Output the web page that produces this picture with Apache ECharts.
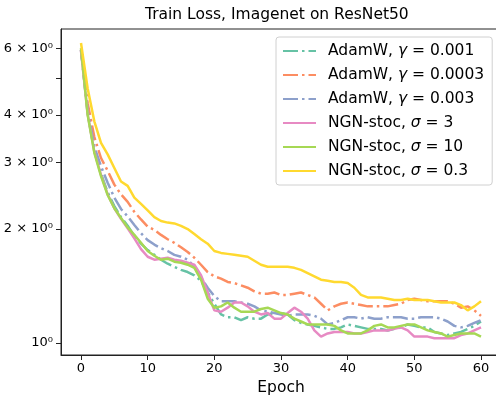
<!DOCTYPE html>
<html>
<head>
<meta charset="utf-8">
<script src="https://cdn.jsdelivr.net/npm/echarts@6/dist/echarts.min.js"></script>
<style>
  html, body { margin: 0; padding: 0; background: #fff; }
  #chart { width: 496px; height: 395px; }
</style>
</head>
<body>
<div id="chart"></div>
<script>
// epochs on the x axis
const epochs = [0, 1, 2, 3, 4, 5, 6, 7, 8, 9, 10, 11, 12, 13, 14, 15, 16, 17, 18, 19, 20,
  21, 22, 23, 24, 25, 26, 27, 28, 29, 30, 31, 32, 33, 34, 35, 36, 37, 38, 39, 40,
  41, 42, 43, 44, 45, 46, 47, 48, 49, 50, 51, 52, 53, 54, 55, 56, 57, 58, 59, 60]

const xTicks = [0, 10, 20, 30, 40, 50, 60]
const yLabels = [1, 2, 3, 4, 6]
const yTicks = [1, 2, 3, 4, 5, 6]

// train loss
const adamw001 = [5.95, 4.05, 3.22, 2.80, 2.50, 2.30, 2.15, 2.04, 1.92, 1.83, 1.76,
  1.71, 1.66, 1.62, 1.59, 1.56, 1.54, 1.51, 1.46, 1.36, 1.27,
  1.19, 1.17, 1.17, 1.15, 1.17, 1.16, 1.16, 1.19, 1.20, 1.20,
  1.19, 1.15, 1.13, 1.12, 1.11, 1.10, 1.09, 1.09, 1.10, 1.12,
  1.11, 1.10, 1.09, 1.09, 1.09, 1.08, 1.09, 1.10, 1.12, 1.11,
  1.10, 1.10, 1.07, 1.06, 1.05, 1.06, 1.07, 1.09, 1.11, 1.14]

const adamw0003 = [5.95, 4.30, 3.50, 3.08, 2.85, 2.62, 2.47, 2.36, 2.22, 2.12, 2.03,
  1.99, 1.93, 1.88, 1.84, 1.79, 1.74, 1.68, 1.61, 1.54, 1.50,
  1.48, 1.45, 1.44, 1.42, 1.40, 1.37, 1.35, 1.35, 1.36, 1.34,
  1.34, 1.35, 1.36, 1.34, 1.32, 1.27, 1.22, 1.25, 1.27, 1.28,
  1.27, 1.26, 1.25, 1.25, 1.25, 1.25, 1.26, 1.27, 1.30, 1.31,
  1.30, 1.29, 1.29, 1.29, 1.29, 1.27, 1.24, 1.25, 1.22, 1.18]

const adamw003 = [5.95, 4.10, 3.30, 2.93, 2.65, 2.42, 2.26, 2.16, 2.05, 1.95, 1.87,
  1.82, 1.78, 1.75, 1.71, 1.69, 1.66, 1.59, 1.49, 1.40, 1.33,
  1.29, 1.29, 1.29, 1.28, 1.27, 1.25, 1.22, 1.21, 1.20, 1.19,
  1.18, 1.19, 1.19, 1.19, 1.18, 1.16, 1.12, 1.13, 1.15, 1.17,
  1.17, 1.16, 1.17, 1.16, 1.16, 1.17, 1.17, 1.17, 1.16, 1.16,
  1.17, 1.17, 1.17, 1.16, 1.14, 1.11, 1.10, 1.11, 1.13, 1.15]

const ngn3 = [5.90, 4.02, 3.20, 2.78, 2.47, 2.27, 2.13, 2.01, 1.89, 1.77, 1.69,
  1.66, 1.67, 1.68, 1.66, 1.65, 1.63, 1.61, 1.51, 1.36, 1.22,
  1.21, 1.24, 1.28, 1.28, 1.25, 1.21, 1.19, 1.20, 1.16, 1.16,
  1.20, 1.24, 1.21, 1.16, 1.08, 1.04, 1.06, 1.07, 1.07, 1.07,
  1.06, 1.06, 1.07, 1.08, 1.08, 1.08, 1.09, 1.10, 1.08, 1.04,
  1.04, 1.04, 1.03, 1.03, 1.03, 1.03, 1.05, 1.06, 1.08, 1.10]

const ngn10 = [6.01, 4.00, 3.18, 2.76, 2.46, 2.27, 2.14, 2.02, 1.93, 1.84, 1.75,
  1.70, 1.66, 1.67, 1.64, 1.63, 1.61, 1.58, 1.47, 1.31, 1.24,
  1.25, 1.28, 1.24, 1.21, 1.21, 1.21, 1.23, 1.24, 1.22, 1.20,
  1.19, 1.16, 1.14, 1.12, 1.12, 1.12, 1.12, 1.11, 1.08, 1.06,
  1.06, 1.06, 1.08, 1.11, 1.12, 1.10, 1.10, 1.11, 1.12, 1.12,
  1.10, 1.08, 1.07, 1.06, 1.04, 1.05, 1.06, 1.06, 1.06, 1.04]

const ngn03 = [6.20, 4.70, 3.85, 3.38, 3.15, 2.90, 2.67, 2.60, 2.42, 2.33, 2.24,
  2.15, 2.10, 2.08, 2.07, 2.04, 2.00, 1.94, 1.88, 1.83, 1.75,
  1.73, 1.72, 1.71, 1.70, 1.69, 1.65, 1.61, 1.59, 1.59, 1.59,
  1.59, 1.58, 1.56, 1.53, 1.50, 1.47, 1.46, 1.45, 1.45, 1.44,
  1.40, 1.34, 1.32, 1.32, 1.32, 1.31, 1.30, 1.30, 1.31, 1.30,
  1.30, 1.30, 1.29, 1.28, 1.28, 1.28, 1.26, 1.22, 1.25, 1.29]

const FONT = 'DejaVu Sans'
const dashDot = [15, 4, 2.5, 4]

function makeSeries(name, values, color, dashed) {
  return {
    name,
    type: 'line',
    data: epochs.map((e, i) => [e, values[i]]),
    symbol: 'none',
    showSymbol: false,
    smooth: false,
    lineStyle: {
      width: 2.5,
      color,
      type: dashed ? dashDot : 'solid'
    },
    itemStyle: { color }
  }
}

const series = [
  makeSeries('AdamW, γ = 0.001', adamw001, '#66c2a5', true),
  makeSeries('AdamW, γ = 0.0003', adamw0003, '#fc8d62', true),
  makeSeries('AdamW, γ = 0.003', adamw003, '#8da0cb', true),
  makeSeries('NGN-stoc, σ = 3', ngn3, '#e78ac3', false),
  makeSeries('NGN-stoc, σ = 10', ngn10, '#a6d854', false),
  makeSeries('NGN-stoc, σ = 0.3', ngn03, '#ffd92f', false)
]

const chart = echarts.init(document.getElementById('chart'), null, { renderer: 'canvas' })

const option = {
  animation: false,
  backgroundColor: '#fff',
  textStyle: { fontFamily: FONT },
  title: {
    text: 'Train Loss, Imagenet on ResNet50',
    left: 145,
    top: 7,
    padding: 0,
    textStyle: { fontFamily: FONT, fontSize: 15.5, fontWeight: 'normal', color: '#000' }
  },
  grid: {
    left: 61,
    top: 29,
    width: 440,
    height: 326,
    outerBoundsMode: 'none',
    containLabel: false,
    show: true,
    borderColor: '#222',
    borderWidth: 1,
    backgroundColor: 'transparent'
  },
  legend: {
    orient: 'vertical',
    left: 276,
    top: 37,
    width: 216,
    padding: [5, 8, 5, 6],
    itemWidth: 33,
    itemHeight: 14,
    itemGap: 6,
    itemStyle: { opacity: 0 },
    backgroundColor: 'rgba(255,255,255,0.8)',
    borderColor: '#d0d0d0',
    borderWidth: 1,
    borderRadius: 3,
    formatter: function (name) {
      return name.replace('γ', '{i|γ}').replace('σ', '{i|σ}')
    },
    textStyle: {
      fontFamily: FONT,
      fontSize: 15.5,
      color: '#000',
      padding: [0, 0, 0, 7],
      lineHeight: 18,
      rich: {
        i: { fontFamily: FONT, fontSize: 15.5, fontStyle: 'italic', color: '#000', lineHeight: 18 }
      }
    },
    data: series.map(s => s.name)
  },
  xAxis: {
    type: 'value',
    min: -3,
    max: 63,
    name: 'Epoch',
    nameLocation: 'middle',
    nameGap: 22,
    nameTextStyle: { fontFamily: FONT, fontSize: 15.5, color: '#000' },
    axisLine: { show: true, onZero: false, lineStyle: { color: '#222', width: 1 } },
    axisTick: { show: true, length: 5, customValues: xTicks, lineStyle: { color: '#222' } },
    axisLabel: {
      customValues: xTicks,
      margin: 7,
      fontFamily: FONT,
      fontSize: 13,
      color: '#000'
    },
    splitLine: { show: false }
  },
  yAxis: {
    type: 'log',
    logBase: 10,
    min: 0.93,
    max: 6.75,
    axisLine: { show: true, onZero: false, lineStyle: { color: '#222', width: 1 } },
    axisTick: { show: true, length: 5, customValues: yTicks, lineStyle: { color: '#222' } },
    axisLabel: {
      customValues: yLabels,
      margin: 8,
      fontFamily: FONT,
      fontSize: 13,
      color: '#000',
      formatter: function (v) {
        const n = Math.round(v)
        return n === 1 ? '10⁰' : n + ' × 10⁰'
      }
    },
    splitLine: { show: false },
    minorTick: { show: false }
  },
  series
}

chart.setOption(option)
</script>
</body>
</html>
